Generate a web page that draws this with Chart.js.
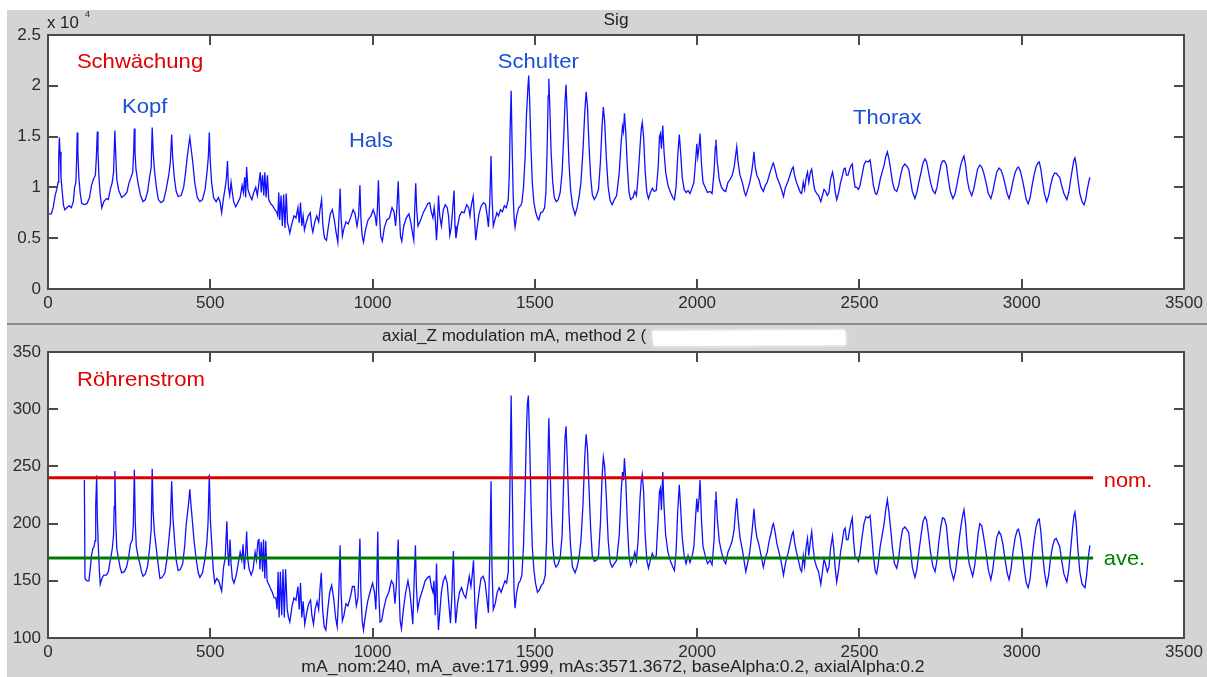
<!DOCTYPE html>
<html><head><meta charset="utf-8">
<script src="https://cdn.jsdelivr.net/npm/chart.js@4.4.1/dist/chart.umd.min.js"></script>
<style>
html,body{margin:0;padding:0;background:#fff;width:1207px;height:677px;overflow:hidden;}
#fig{position:absolute;left:7px;top:10px;width:1200px;height:667px;background:#d4d4d4;}
#sep{position:absolute;left:7px;top:323px;width:1200px;height:2px;background:#8c8c8c;}
canvas{position:absolute;left:0;}
</style></head><body>
<div id="fig"></div><div id="sep"></div>
<canvas id="c1" width="1207" height="324" style="top:0;width:1207px;height:324px"></canvas>
<canvas id="c2" width="1207" height="353" style="top:324px;width:1207px;height:353px"></canvas>
<script>
// ---------- DATA ----------
const xTicks = [0, 500, 1000, 1500, 2000, 2500, 3000, 3500];
const sigTicks = [0, 0.5, 1, 1.5, 2, 2.5];           // x 10^4
const maTicks = [100, 150, 200, 250, 300, 350];
const mA_nom = 240;
const mA_ave = 170;
const refLineRange = [0, 3220];

// Sig (attenuation) trace, [position, value x10^4]
const sigTrace = [
[0,0.74],[10,0.74],[16,0.80],[22,0.92],[27,0.98],[31,1.05],[33,1.30],[35,1.49],[37,1.35],[40,1.10],[44,0.95],[48,0.82],
[52,0.78],[58,0.80],[65,0.82],[72,0.80],[78,0.86],[82,1.00],[86,1.05],[88,1.25],[90,1.54],[92,1.35],[95,1.10],[99,0.95],
[104,0.84],[112,0.83],[120,0.84],[128,0.90],[134,1.02],[140,1.08],[146,1.12],[149,1.30],[152,1.55],[154,1.35],[157,1.10],
[161,0.92],[166,0.80],[172,0.86],[180,0.89],[186,0.88],[192,0.98],[198,1.05],[202,1.15],[206,1.56],[209,1.30],[212,1.08],
[218,0.97],[227,0.90],[235,0.92],[243,0.95],[250,1.05],[256,1.10],[261,1.15],[264,1.35],[266,1.58],[268,1.35],[271,1.18],
[277,1.05],[285,0.92],[293,0.86],[300,0.88],[307,0.96],[313,1.10],[318,1.20],[321,1.59],[324,1.35],[328,1.17],[334,1.00],
[340,0.88],[348,0.85],[356,0.87],[364,0.98],[372,1.12],[377,1.25],[381,1.52],[384,1.30],[389,1.10],[395,0.96],[401,0.91],
[410,0.92],[418,1.00],[424,1.15],[429,1.30],[433,1.40],[437,1.49],[441,1.38],[446,1.25],[452,1.05],[460,0.90],[468,0.86],
[476,0.88],[484,0.98],[490,1.15],[494,1.30],[497,1.54],[500,1.25],[504,1.05],[510,0.90],[518,0.86],[525,0.90],[530,0.86],
[535,0.75],[541,0.90],[546,1.00],[550,1.10],[553,1.26],[556,1.00],[560,0.92],[564,1.05],[568,0.95],[572,0.86],[578,0.81],
[585,0.85],[592,0.90],[598,1.02],[602,0.95],[606,1.10],[609,0.90],[612,1.20],[616,0.98],[622,0.92],[628,0.88],[634,0.95],
[640,1.00],[645,0.92],[650,1.05],[654,1.15],[657,0.95],[661,1.12],[665,0.92],[668,1.15],[672,0.90],[676,1.12],[680,0.88],
[686,0.84],[692,0.82],[699,0.78],[704,0.76],[708,0.72],[711,0.95],[714,0.68],[718,0.92],[722,0.62],[726,0.93],[730,0.60],
[734,0.94],[738,0.65],[742,0.60],[745,0.55],[752,0.65],[758,0.72],[764,0.70],[770,0.80],[774,0.65],[778,0.85],[782,0.62],
[786,0.72],[790,0.58],[796,0.66],[802,0.72],[808,0.75],[812,0.62],[816,0.56],[822,0.66],[828,0.72],[834,0.66],[838,0.78],
[843,0.88],[847,0.62],[852,0.50],[858,0.48],[864,0.62],[870,0.74],[876,0.78],[882,0.68],[888,0.55],[893,0.46],[897,0.75],
[900,0.99],[903,0.70],[907,0.52],[912,0.60],[918,0.66],[925,0.64],[932,0.70],[940,0.78],[946,0.74],[952,0.62],[957,0.72],
[961,1.02],[964,0.70],[968,0.52],[972,0.46],[978,0.58],[986,0.68],[995,0.72],[1002,0.78],[1008,0.72],[1012,0.62],[1015,0.80],
[1018,1.07],[1021,0.75],[1025,0.52],[1030,0.47],[1036,0.60],[1044,0.68],[1052,0.70],[1060,0.80],[1066,0.76],[1071,0.62],
[1075,0.80],[1079,1.06],[1082,0.78],[1086,0.52],[1090,0.47],[1096,0.62],[1104,0.70],[1112,0.74],[1118,0.65],[1123,0.55],
[1127,0.48],[1130,0.80],[1133,1.04],[1136,0.78],[1140,0.62],[1148,0.68],[1156,0.75],[1164,0.80],[1170,0.84],[1176,0.85],
[1181,0.76],[1186,0.70],[1190,0.80],[1193,0.70],[1197,0.48],[1200,0.65],[1203,0.92],[1207,0.72],[1212,0.62],[1218,0.78],
[1224,0.83],[1230,0.80],[1234,0.72],[1238,0.53],[1242,0.60],[1246,0.75],[1251,0.97],[1254,0.62],[1257,0.50],[1262,0.62],
[1268,0.72],[1275,0.76],[1282,0.75],[1290,0.83],[1296,0.80],[1300,0.72],[1304,0.82],[1310,0.91],[1314,0.70],[1318,0.48],
[1322,0.60],[1328,0.74],[1335,0.82],[1342,0.85],[1348,0.83],[1353,0.72],[1357,0.61],[1361,0.85],[1365,1.31],[1368,0.90],
[1372,0.62],[1377,0.68],[1383,0.75],[1388,0.72],[1394,0.78],[1400,0.76],[1406,0.82],[1412,0.80],[1418,0.88],[1421,1.10],
[1424,1.60],[1427,1.95],[1430,1.40],[1433,0.95],[1436,0.70],[1439,0.61],[1444,0.72],[1450,0.80],[1456,0.82],[1460,0.85],
[1465,1.00],[1470,1.30],[1474,1.70],[1478,1.95],[1481,2.10],[1484,1.85],[1488,1.40],[1492,1.05],[1497,0.85],[1503,0.75],
[1508,0.70],[1512,0.68],[1518,0.75],[1524,0.76],[1530,0.80],[1534,0.95],[1538,1.40],[1541,1.90],[1543,2.07],[1546,1.80],
[1550,1.35],[1555,1.05],[1560,0.90],[1566,0.86],[1572,0.88],[1578,0.95],[1584,1.15],[1589,1.50],[1593,1.85],[1596,2.01],
[1600,1.70],[1605,1.25],[1610,0.98],[1616,0.82],[1624,0.73],[1630,0.80],[1636,0.90],[1642,1.05],[1648,1.35],[1654,1.75],
[1658,1.94],[1662,1.80],[1667,1.40],[1672,1.10],[1677,0.93],[1683,0.88],[1690,0.92],[1696,0.98],[1702,1.25],[1707,1.60],
[1711,1.79],[1715,1.65],[1720,1.30],[1726,1.00],[1732,0.87],[1738,0.83],[1745,0.88],[1752,0.92],[1760,1.15],[1766,1.45],
[1770,1.60],[1773,1.55],[1776,1.73],[1780,1.55],[1785,1.20],[1790,0.95],[1795,0.88],[1802,0.90],[1808,0.96],[1813,0.92],
[1818,1.10],[1824,1.40],[1828,1.58],[1831,1.64],[1835,1.50],[1840,1.15],[1845,0.95],[1850,0.89],[1856,0.95],[1862,0.99],
[1868,0.96],[1874,0.97],[1880,1.20],[1884,1.50],[1887,1.53],[1890,1.38],[1894,1.61],[1898,1.35],[1903,1.15],[1910,1.02],
[1918,0.95],[1925,0.90],[1930,0.88],[1935,1.00],[1940,1.30],[1945,1.52],[1949,1.35],[1954,1.10],[1960,0.98],[1966,0.95],
[1972,0.97],[1978,0.94],[1985,1.00],[1990,1.05],[1995,1.25],[1999,1.43],[2002,1.30],[2006,1.40],[2009,1.53],[2013,1.25],
[2018,1.05],[2025,1.00],[2032,0.95],[2040,0.96],[2046,0.94],[2052,1.15],[2056,1.40],[2058,1.47],[2062,1.25],[2068,1.08],
[2075,1.00],[2082,0.97],[2088,0.96],[2095,1.05],[2102,1.08],[2108,1.12],[2114,1.20],[2118,1.30],[2122,1.40],[2126,1.25],
[2132,1.12],[2140,1.04],[2146,0.95],[2150,0.92],[2156,0.98],[2162,1.05],[2168,1.15],[2172,1.25],[2175,1.35],[2179,1.20],
[2184,1.12],[2190,1.08],[2197,1.00],[2204,0.96],[2210,1.02],[2216,1.05],[2222,1.12],[2228,1.18],[2232,1.22],[2235,1.24],
[2240,1.18],[2246,1.10],[2252,1.05],[2258,1.00],[2266,0.91],[2272,1.00],[2280,1.06],[2286,1.12],[2292,1.18],[2296,1.20],
[2300,1.12],[2306,1.05],[2312,1.00],[2318,0.95],[2322,0.94],[2327,1.05],[2331,0.98],[2336,1.10],[2340,1.15],[2344,1.05],
[2349,1.15],[2353,1.18],[2357,1.08],[2362,0.98],[2368,0.94],[2374,0.92],[2381,0.86],[2386,0.92],[2391,0.98],[2396,0.96],
[2401,0.92],[2406,0.95],[2411,1.08],[2417,1.15],[2421,1.08],[2425,0.96],[2430,0.88],[2436,0.95],[2442,1.05],[2448,1.12],
[2452,1.18],[2456,1.19],[2460,1.12],[2465,1.12],[2470,1.18],[2475,1.22],[2478,1.23],[2482,1.10],[2487,1.00],[2492,1.00],
[2497,0.98],[2502,1.02],[2508,1.12],[2514,1.22],[2520,1.26],[2527,1.25],[2533,1.27],[2538,1.15],[2543,1.02],[2549,0.94],
[2553,0.93],[2558,0.98],[2564,1.08],[2570,1.15],[2576,1.22],[2581,1.30],[2586,1.35],[2591,1.28],[2596,1.18],[2602,1.05],
[2608,0.98],[2615,0.96],[2621,1.02],[2627,1.12],[2633,1.20],[2640,1.23],[2646,1.21],[2652,1.18],[2657,1.08],[2663,0.96],
[2671,0.89],[2677,0.95],[2683,1.05],[2690,1.15],[2696,1.24],[2702,1.28],[2707,1.25],[2713,1.15],[2719,1.05],[2726,0.97],
[2733,0.94],[2739,1.00],[2745,1.12],[2751,1.22],[2756,1.26],[2762,1.26],[2768,1.22],[2773,1.10],[2780,0.96],[2788,0.89],
[2794,0.93],[2800,1.02],[2806,1.12],[2812,1.22],[2818,1.28],[2822,1.31],[2827,1.22],[2832,1.08],[2838,0.98],[2846,0.92],
[2852,0.98],[2858,1.08],[2864,1.18],[2871,1.22],[2877,1.20],[2883,1.14],[2890,1.05],[2897,0.94],[2905,0.89],[2911,0.96],
[2917,1.06],[2923,1.15],[2930,1.19],[2936,1.17],[2942,1.12],[2948,1.04],[2955,0.94],[2961,0.89],[2967,0.96],[2973,1.06],
[2980,1.15],[2986,1.19],[2990,1.20],[2996,1.16],[3002,1.08],[3008,0.98],[3014,0.88],[3020,0.84],[3026,0.90],[3032,1.02],
[3038,1.12],[3044,1.20],[3050,1.24],[3054,1.25],[3059,1.18],[3064,1.06],[3070,0.94],[3077,0.86],[3083,0.92],[3089,1.02],
[3095,1.10],[3101,1.14],[3106,1.14],[3111,1.12],[3117,1.10],[3123,1.02],[3130,0.94],[3139,0.88],[3145,0.95],[3151,1.08],
[3157,1.20],[3161,1.27],[3164,1.29],[3168,1.22],[3173,1.08],[3179,0.94],[3186,0.86],[3192,0.83],[3197,0.88],[3202,0.98],
[3207,1.06],[3210,1.10]
];

// tube current (mA) trace, [position, mA]
const maTrace = [
[112,238],[114,152],[120,150],[126,150],[130,160],[134,172],[138,178],[142,180],[145,185],[147,215],[150,242],[152,205],
[155,180],[158,160],[161,147],[166,152],[172,155],[180,155],[186,158],[192,168],[198,178],[202,190],[204,215],[206,246],
[209,200],[212,178],[217,170],[222,162],[227,157],[235,158],[242,162],[248,170],[254,182],[260,186],[263,200],[266,247],
[269,200],[272,180],[277,172],[283,165],[288,158],[293,154],[300,156],[307,163],[313,178],[318,195],[321,248],[324,210],
[328,192],[333,180],[339,165],[345,152],[352,153],[360,157],[366,168],[372,185],[377,200],[381,237],[385,205],[390,185],
[395,168],[401,159],[408,160],[415,165],[421,180],[426,200],[431,212],[434,220],[437,230],[440,218],[444,205],[450,185],
[457,168],[463,157],[468,153],[476,157],[483,168],[489,182],[493,200],[497,243],[500,205],[504,185],[509,160],[514,148],
[520,152],[526,150],[531,145],[535,141],[541,162],[546,170],[551,202],[554,175],[557,163],[561,186],[564,165],[568,152],
[573,148],[580,155],[586,165],[592,175],[597,168],[601,182],[605,160],[609,175],[612,193],[615,170],[620,160],[626,155],
[632,160],[638,175],[642,168],[647,185],[650,186],[653,160],[657,184],[661,158],[664,186],[668,152],[671,185],[675,150],
[680,147],[686,143],[691,140],[697,135],[702,135],[706,125],[709,158],[712,118],[716,158],[720,120],[724,160],[728,118],
[732,160],[737,125],[741,118],[745,114],[752,128],[758,135],[764,133],[770,145],[774,125],[778,148],[782,118],[786,132],
[791,112],[797,122],[803,130],[809,133],[813,120],[818,112],[823,125],[829,132],[834,125],[838,143],[842,157],[846,125],
[851,110],[856,107],[862,125],[868,140],[874,146],[880,135],[886,118],[891,110],[896,140],[900,181],[903,140],[907,115],
[912,120],[918,130],[924,128],[931,135],[938,145],[944,145],[950,128],[955,135],[958,160],[961,187],[964,140],[968,115],
[972,107],[978,120],[985,132],[992,140],[1000,148],[1006,140],[1010,125],[1013,150],[1016,193],[1019,140],[1023,114],
[1028,115],[1034,125],[1042,135],[1050,140],[1058,150],[1064,147],[1069,130],[1073,145],[1079,186],[1082,140],[1085,115],
[1089,108],[1095,125],[1102,140],[1109,150],[1115,140],[1120,125],[1124,112],[1128,150],[1132,181],[1135,145],[1139,125],
[1146,135],[1154,142],[1162,150],[1170,153],[1176,154],[1181,145],[1186,140],[1189,150],[1193,120],[1197,165],[1200,130],
[1203,107],[1207,122],[1212,140],[1218,150],[1224,154],[1230,148],[1235,130],[1240,113],[1244,135],[1249,176],[1252,140],
[1256,113],[1262,130],[1268,140],[1274,144],[1281,138],[1287,135],[1293,145],[1298,154],[1303,145],[1307,155],[1311,168],
[1315,130],[1318,108],[1322,125],[1328,140],[1334,152],[1341,154],[1347,148],[1352,135],[1357,122],[1361,170],[1365,237],
[1368,160],[1372,125],[1378,130],[1384,140],[1390,144],[1396,140],[1402,145],[1408,150],[1413,148],[1418,158],[1422,210],
[1425,270],[1427,312],[1430,240],[1433,180],[1436,140],[1439,126],[1444,140],[1450,148],[1455,150],[1460,155],[1465,180],
[1470,230],[1474,280],[1477,305],[1480,312],[1484,270],[1488,220],[1492,180],[1497,160],[1502,148],[1508,140],[1514,142],
[1520,146],[1526,148],[1532,155],[1536,185],[1540,250],[1543,292],[1546,260],[1550,215],[1555,180],[1560,166],[1565,162],
[1571,164],[1578,170],[1584,190],[1589,240],[1593,275],[1596,285],[1600,255],[1605,210],[1610,180],[1616,162],[1624,157],
[1630,162],[1636,170],[1642,185],[1648,215],[1654,260],[1658,278],[1662,265],[1667,230],[1672,195],[1677,172],[1683,167],
[1690,168],[1696,172],[1702,200],[1707,240],[1711,258],[1715,250],[1720,225],[1726,185],[1732,166],[1738,162],[1745,165],
[1752,168],[1760,190],[1766,228],[1770,245],[1773,238],[1776,257],[1780,238],[1785,200],[1790,172],[1795,163],[1802,168],
[1808,175],[1813,168],[1818,185],[1824,222],[1828,238],[1831,243],[1835,228],[1840,190],[1845,168],[1850,161],[1856,168],
[1862,174],[1868,170],[1874,172],[1880,205],[1884,228],[1887,231],[1890,212],[1894,245],[1898,215],[1903,190],[1910,175],
[1918,167],[1925,162],[1930,159],[1935,175],[1940,210],[1945,234],[1949,215],[1954,188],[1960,172],[1966,165],[1972,172],
[1978,166],[1985,172],[1990,180],[1995,205],[1999,222],[2002,210],[2006,222],[2009,238],[2013,205],[2018,180],[2025,172],
[2032,165],[2040,168],[2046,164],[2052,185],[2056,220],[2058,228],[2062,205],[2068,185],[2075,175],[2082,168],[2088,165],
[2095,175],[2102,180],[2108,185],[2114,195],[2118,210],[2122,222],[2126,205],[2132,188],[2140,176],[2146,165],[2150,158],
[2156,166],[2162,175],[2168,190],[2172,202],[2175,213],[2179,198],[2184,188],[2190,182],[2197,172],[2204,162],[2210,170],
[2216,175],[2222,185],[2228,192],[2232,198],[2235,200],[2240,193],[2246,182],[2252,175],[2258,168],[2266,155],[2272,165],
[2280,174],[2286,182],[2292,190],[2296,193],[2300,184],[2306,175],[2312,168],[2318,160],[2322,158],[2327,172],[2331,163],
[2336,180],[2340,187],[2344,172],[2349,185],[2353,193],[2357,180],[2362,168],[2368,162],[2374,158],[2381,147],[2386,158],
[2391,169],[2396,164],[2401,158],[2406,162],[2411,178],[2417,189],[2421,178],[2425,162],[2430,149],[2436,160],[2442,175],
[2448,186],[2452,194],[2456,196],[2460,186],[2465,186],[2470,195],[2475,202],[2478,205],[2482,185],[2487,170],[2492,170],
[2497,167],[2502,174],[2508,188],[2514,200],[2520,206],[2527,205],[2533,207],[2538,190],[2543,172],[2549,158],[2553,156],
[2558,165],[2564,180],[2570,190],[2576,200],[2581,212],[2586,221],[2591,210],[2596,196],[2602,178],[2608,165],[2615,161],
[2621,170],[2627,185],[2633,195],[2640,197],[2646,195],[2652,192],[2657,178],[2663,162],[2671,153],[2677,160],[2683,175],
[2690,190],[2696,202],[2702,206],[2707,203],[2713,190],[2719,175],[2726,163],[2733,158],[2739,168],[2745,185],[2751,198],
[2756,205],[2762,204],[2768,198],[2773,182],[2780,162],[2790,151],[2796,158],[2802,172],[2808,188],[2814,200],[2818,207],
[2822,212],[2827,200],[2832,180],[2838,165],[2849,154],[2855,163],[2861,178],[2866,192],[2871,200],[2877,198],[2883,188],
[2890,175],[2897,160],[2905,151],[2911,160],[2917,175],[2923,188],[2930,193],[2936,190],[2942,182],[2948,170],[2955,157],
[2961,151],[2967,160],[2973,175],[2980,188],[2986,194],[2990,195],[2996,188],[3002,175],[3008,160],[3014,148],[3020,144],
[3026,152],[3032,170],[3038,185],[3044,197],[3050,203],[3054,204],[3059,193],[3064,175],[3070,158],[3077,146],[3083,155],
[3089,170],[3095,180],[3101,186],[3106,187],[3111,184],[3117,180],[3123,168],[3130,156],[3139,149],[3145,160],[3151,178],
[3157,197],[3161,207],[3164,210],[3168,200],[3173,178],[3179,158],[3186,147],[3195,144],[3200,155],[3205,170],[3210,181]
];

// ---------- STYLE / LAYOUT ----------
const FONT = "'Liberation Sans', Arial, Helvetica, sans-serif";
const BLUE_LABEL = '#1a4fd6';
const RED_LABEL = '#e00000';
const TRACE = '#1010ff';

const toPts = arr => arr.map(p => ({x: p[0], y: p[1]}));

const matlabAxes = {
  id: 'matlabAxes',
  beforeDraw(chart) {
    const {ctx, chartArea: a} = chart;
    ctx.save();
    ctx.fillStyle = '#ffffff';
    ctx.fillRect(a.left, a.top, a.right - a.left, a.bottom - a.top);
    ctx.restore();
  },
  afterDraw(chart, args, opts) {
    const {ctx, chartArea: a, scales: {x, y}} = chart;
    ctx.save();
    ctx.strokeStyle = '#4a4a4a';
    ctx.lineWidth = 2;
    ctx.strokeRect(Math.round(a.left), Math.round(a.top),
                   Math.round(a.right - a.left), Math.round(a.bottom - a.top));
    ctx.beginPath();
    const L = 10;
    x.ticks.forEach(t => {
      const px = Math.round(x.getPixelForValue(t.value));
      ctx.moveTo(px, a.bottom); ctx.lineTo(px, a.bottom - L);
      ctx.moveTo(px, a.top); ctx.lineTo(px, a.top + L);
    });
    y.ticks.forEach(t => {
      const py = Math.round(y.getPixelForValue(t.value));
      ctx.moveTo(a.left, py); ctx.lineTo(a.left + L, py);
      ctx.moveTo(a.right, py); ctx.lineTo(a.right - L, py);
    });
    ctx.stroke();
    (opts.texts || []).forEach(t => {
      ctx.save();
      ctx.font = t.font;
      ctx.fillStyle = t.color;
      ctx.textAlign = t.align || 'left';
      ctx.textBaseline = 'middle';
      const px = (t.x !== undefined) ? x.getPixelForValue(t.x) : t.px;
      const py = (t.y !== undefined) ? y.getPixelForValue(t.y) : t.py;
      ctx.translate(px, py);
      ctx.scale(t.sx || 1, 1);
      ctx.fillText(t.text, 0, 0);
      ctx.restore();
    });
    if (opts.after) opts.after(ctx, chart);
    ctx.restore();
  }
};

function baseScales(yTicks) {
  return {
    x: {
      type: 'linear', min: xTicks[0], max: xTicks[xTicks.length - 1],
      afterBuildTicks: s => { s.ticks = xTicks.map(v => ({value: v})); },
      afterFit: s => { s.height = 30; },
      grid: {display: false, drawTicks: false},
      border: {display: false},
      ticks: {font: {family: FONT, size: 17}, color: '#2b2b2b', padding: 4,
              maxRotation: 0, autoSkip: false, callback: v => String(v)}
    },
    y: {
      type: 'linear', min: yTicks[0], max: yTicks[yTicks.length - 1],
      afterBuildTicks: s => { s.ticks = yTicks.map(v => ({value: v})); },
      afterFit: s => { s.width = 40; },
      grid: {display: false, drawTicks: false},
      border: {display: false},
      ticks: {font: {family: FONT, size: 17}, color: '#2b2b2b', padding: 7,
              autoSkip: false, callback: v => String(v)}
    }
  };
}

const common = {
  responsive: false, animation: false, devicePixelRatio: 1,
  elements: {point: {radius: 0}, line: {tension: 0}},
  plugins: {legend: {display: false}, tooltip: {enabled: false}}
};

const LBL = '21px ' + FONT;

new Chart(document.getElementById('c1'), {
  type: 'line',
  data: {datasets: [{
    data: toPts(sigTrace), borderColor: TRACE, borderWidth: 1.3, fill: false
  }]},
  options: Object.assign({}, common, {
    layout: {padding: {left: 8, right: 23, top: 35, bottom: 5}},
    scales: baseScales(sigTicks),
    plugins: Object.assign({}, common.plugins, {
      matlabAxes: {
        texts: [
          {text: 'Sig', px: 616, py: 21, font: '16px ' + FONT, color: '#222', align: 'center', sx: 1.08},
          {text: 'x 10', px: 47, py: 24, font: '16px ' + FONT, color: '#222', sx: 1.05},
          {text: '4', px: 85, py: 15, font: '9px ' + FONT, color: '#222'},
          {text: 'Schwächung', x: 89, y: 2.23, font: LBL, color: RED_LABEL, sx: 1.05},
          {text: 'Kopf', x: 228, y: 1.79, font: LBL, color: BLUE_LABEL, sx: 1.05},
          {text: 'Hals', x: 927, y: 1.45, font: LBL, color: BLUE_LABEL, sx: 1.05},
          {text: 'Schulter', x: 1386, y: 2.23, font: LBL, color: BLUE_LABEL, sx: 1.05},
          {text: 'Thorax', x: 2480, y: 1.68, font: LBL, color: BLUE_LABEL, sx: 1.05}
        ]
      }
    })
  }),
  plugins: [matlabAxes]
});

new Chart(document.getElementById('c2'), {
  type: 'line',
  data: {datasets: [
    {data: refLineRange.map(v => ({x: v, y: mA_nom})), borderColor: '#d80000', borderWidth: 3, fill: false},
    {data: refLineRange.map(v => ({x: v, y: mA_ave})), borderColor: '#007a00', borderWidth: 3, fill: false},
    {data: toPts(maTrace), borderColor: TRACE, borderWidth: 1.3, fill: false}
  ]},
  options: Object.assign({}, common, {
    layout: {padding: {left: 8, right: 23, top: 28, bottom: 9}},
    scales: baseScales(maTicks),
    plugins: Object.assign({}, common.plugins, {
      matlabAxes: {
        texts: [
          {text: 'axial_Z modulation mA, method 2 (', px: 382, py: 13, font: '16px ' + FONT, color: '#222', sx: 1.065},
          {text: 'Röhrenstrom', x: 89, y: 325.5, font: LBL, color: RED_LABEL, sx: 1.055},
          {text: 'nom.', x: 3253, y: 237, font: LBL, color: RED_LABEL, sx: 1.04},
          {text: 'ave.', x: 3253, y: 169, font: LBL, color: '#008000', sx: 1.04},
          {text: 'mA_nom:240, mA_ave:171.999, mAs:3571.3672, baseAlpha:0.2, axialAlpha:0.2',
           px: 613, py: 344, font: '16px ' + FONT, color: '#222', align: 'center', sx: 1.1}
        ],
        after(ctx) {
          // redacted part of the title (white smudge)
          ctx.save();
          ctx.fillStyle = '#ffffff';
          ctx.shadowColor = '#ffffff';
          ctx.shadowBlur = 4;
          ctx.beginPath();
          ctx.moveTo(652, 7); ctx.lineTo(845, 6); ctx.lineTo(846, 21); ctx.lineTo(654, 22);
          ctx.closePath(); ctx.fill();
          ctx.restore();
        }
      }
    })
  }),
  plugins: [matlabAxes]
});
</script>
</body></html>
